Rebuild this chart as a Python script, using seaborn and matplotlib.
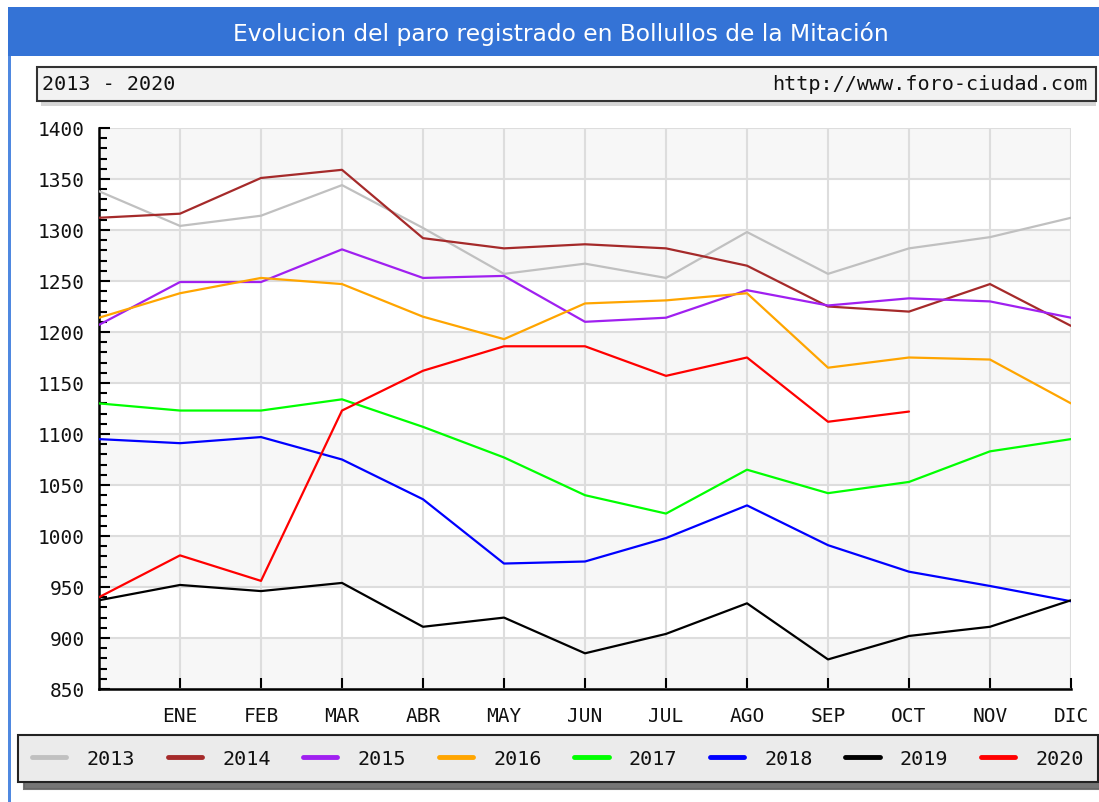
import numpy as np
import pandas as pd
import matplotlib
matplotlib.use("Agg")
import matplotlib.pyplot as plt
from matplotlib.patches import Rectangle
from matplotlib.lines import Line2D
import seaborn as sns

# ---- data ----
month_labels = ["", "ENE", "FEB", "MAR", "ABR", "MAY", "JUN", "JUL", "AGO", "SEP", "OCT", "NOV", "DIC"]
years = ["2013", "2014", "2015", "2016", "2017", "2018", "2019", "2020"]
y2013 = [1338, 1304, 1314, 1344, 1302, 1257, 1267, 1253, 1298, 1257, 1282, 1293, 1312]
y2014 = [1312, 1316, 1351, 1359, 1292, 1282, 1286, 1282, 1265, 1225, 1220, 1247, 1206]
y2015 = [1207, 1249, 1249, 1281, 1253, 1255, 1210, 1214, 1241, 1226, 1233, 1230, 1214]
y2016 = [1214, 1238, 1253, 1247, 1215, 1193, 1228, 1231, 1238, 1165, 1175, 1173, 1130]
y2017 = [1130, 1123, 1123, 1134, 1107, 1077, 1040, 1022, 1065, 1042, 1053, 1083, 1095]
y2018 = [1095, 1091, 1097, 1075, 1036, 973, 975, 998, 1030, 991, 965, 951, 936]
y2019 = [937, 952, 946, 954, 911, 920, 885, 904, 934, 879, 902, 911, 937]
y2020 = [940, 981, 956, 1123, 1162, 1186, 1186, 1157, 1175, 1112, 1122, None, None]
series = [y2013, y2014, y2015, y2016, y2017, y2018, y2019, y2020]
colors = ["#c0c0c0", "#a52a2a", "#a020f0", "#ffa500", "#00ff00", "#0000ff", "#000000", "#ff0000"]
yticks = [850, 900, 950, 1000, 1050, 1100, 1150, 1200, 1250, 1300, 1350, 1400]

rows = []
for yr, vals in zip(years, series):
    for i, v in enumerate(vals):
        if v is not None:
            rows.append({"mes": i, "paro": v, "year": yr})
df = pd.DataFrame(rows)

sns.set_theme(style="white")
plt.rcParams["font.family"] = ["DejaVu Sans"]

W, H = 1099, 803
fig = plt.figure(figsize=(W / 100, H / 100), dpi=100)
fig.patch.set_facecolor("white")

def fx(x):
    return x / W

def fy(y):
    return 1 - y / H

# title bar
fig.patches.append(Rectangle((fx(8), fy(57)), fx(1099) - fx(8), fy(8) - fy(57),
                             transform=fig.transFigure, facecolor="#3473d6", edgecolor="none", zorder=0))
fig.patches.append(Rectangle((fx(8), fy(803)), fx(2.5), fy(57) - fy(803),
                             transform=fig.transFigure, facecolor="#4f88e0", edgecolor="none", zorder=0))
fig.text(fx(561), fy(34), "Evolucion del paro registrado en Bollullos de la Mitación",
         color="white", fontsize=16.8, ha="center", va="center", family="DejaVu Sans")

# subtitle box with shadow
fig.patches.append(Rectangle((fx(41), fy(107)), fx(1096) - fx(41), fy(72) - fy(107),
                             transform=fig.transFigure, facecolor="#d6d6d6", edgecolor="none", zorder=1))
fig.patches.append(Rectangle((fx(37), fy(102)), fx(1096) - fx(37), fy(68) - fy(102),
                             transform=fig.transFigure, facecolor="#f2f2f2", edgecolor="#333333",
                             linewidth=1.5, zorder=2))
fig.text(fx(42), fy(85), "2013 - 2020", fontsize=14.5, family="DejaVu Sans Mono",
         ha="left", va="center", color="#111111", zorder=3)
fig.text(fx(1087), fy(85), "http://www.foro-ciudad.com", fontsize=14.5, family="DejaVu Sans Mono",
         ha="right", va="center", color="#111111", zorder=3)

# plot axes
ax = fig.add_axes([fx(99), fy(690), fx(1071) - fx(99), fy(129) - fy(690)])
ax.set_facecolor("white")
for lo in range(850, 1400, 100):
    ax.axhspan(lo, lo + 50, color="#f7f7f7", zorder=0, lw=0)

sns.lineplot(data=df, x="mes", y="paro", hue="year", palette=dict(zip(years, colors)),
             linewidth=1.6, ax=ax, legend=True, zorder=3)
handles, labels = ax.get_legend_handles_labels()
ax.get_legend().remove()

ax.set_xlim(0, 12)
ax.set_ylim(850, 1400)
ax.set_xticks(range(1, 13))
ax.set_xticklabels(month_labels[1:])
ax.set_yticks(yticks)
ax.set_yticks(range(850, 1401, 10), minor=True)
ax.set_xlabel("")
ax.set_ylabel("")
ax.grid(True, which="major", color="#dddddd", linewidth=1.5, zorder=1)
ax.set_axisbelow(True)
for s in ["top", "right"]:
    ax.spines[s].set_visible(False)
for s in ["left", "bottom"]:
    ax.spines[s].set_color("black")
    ax.spines[s].set_linewidth(1.8)
ax.tick_params(axis="both", which="major", direction="in", length=8, width=1.5, color="black",
               labelsize=14, labelcolor="#111111")
ax.tick_params(axis="y", which="minor", direction="in", length=6, width=1.5, color="black", left=True)
ax.tick_params(axis="y", which="major", pad=10, left=True)
ax.tick_params(axis="x", which="major", pad=12, bottom=True)
for t in ax.get_xticklabels() + ax.get_yticklabels():
    t.set_family("DejaVu Sans Mono")

# legend
leg_handles = [Line2D([0], [0], color=c, linewidth=3.5) for c in colors]
leg = fig.legend(leg_handles, years, ncol=8, mode="expand", loc="lower left",
                 bbox_to_anchor=(fx(18), fy(783), fx(1098) - fx(18), fy(740) - fy(783)),
                 prop={"family": "DejaVu Sans Mono", "size": 14.5}, frameon=True, fancybox=False,
                 facecolor="#ebebeb", edgecolor="#222222", framealpha=1,
                 handlelength=1.7, handletextpad=1.0, borderpad=0.7, borderaxespad=0,
                 shadow={"ox": 4, "oy": -5, "color": "#666666", "alpha": 0.9})
leg.get_frame().set_linewidth(1.5)
for t in leg.get_texts():
    t.set_color("#111111")

fig.savefig("out.png", dpi=100, facecolor="white")
